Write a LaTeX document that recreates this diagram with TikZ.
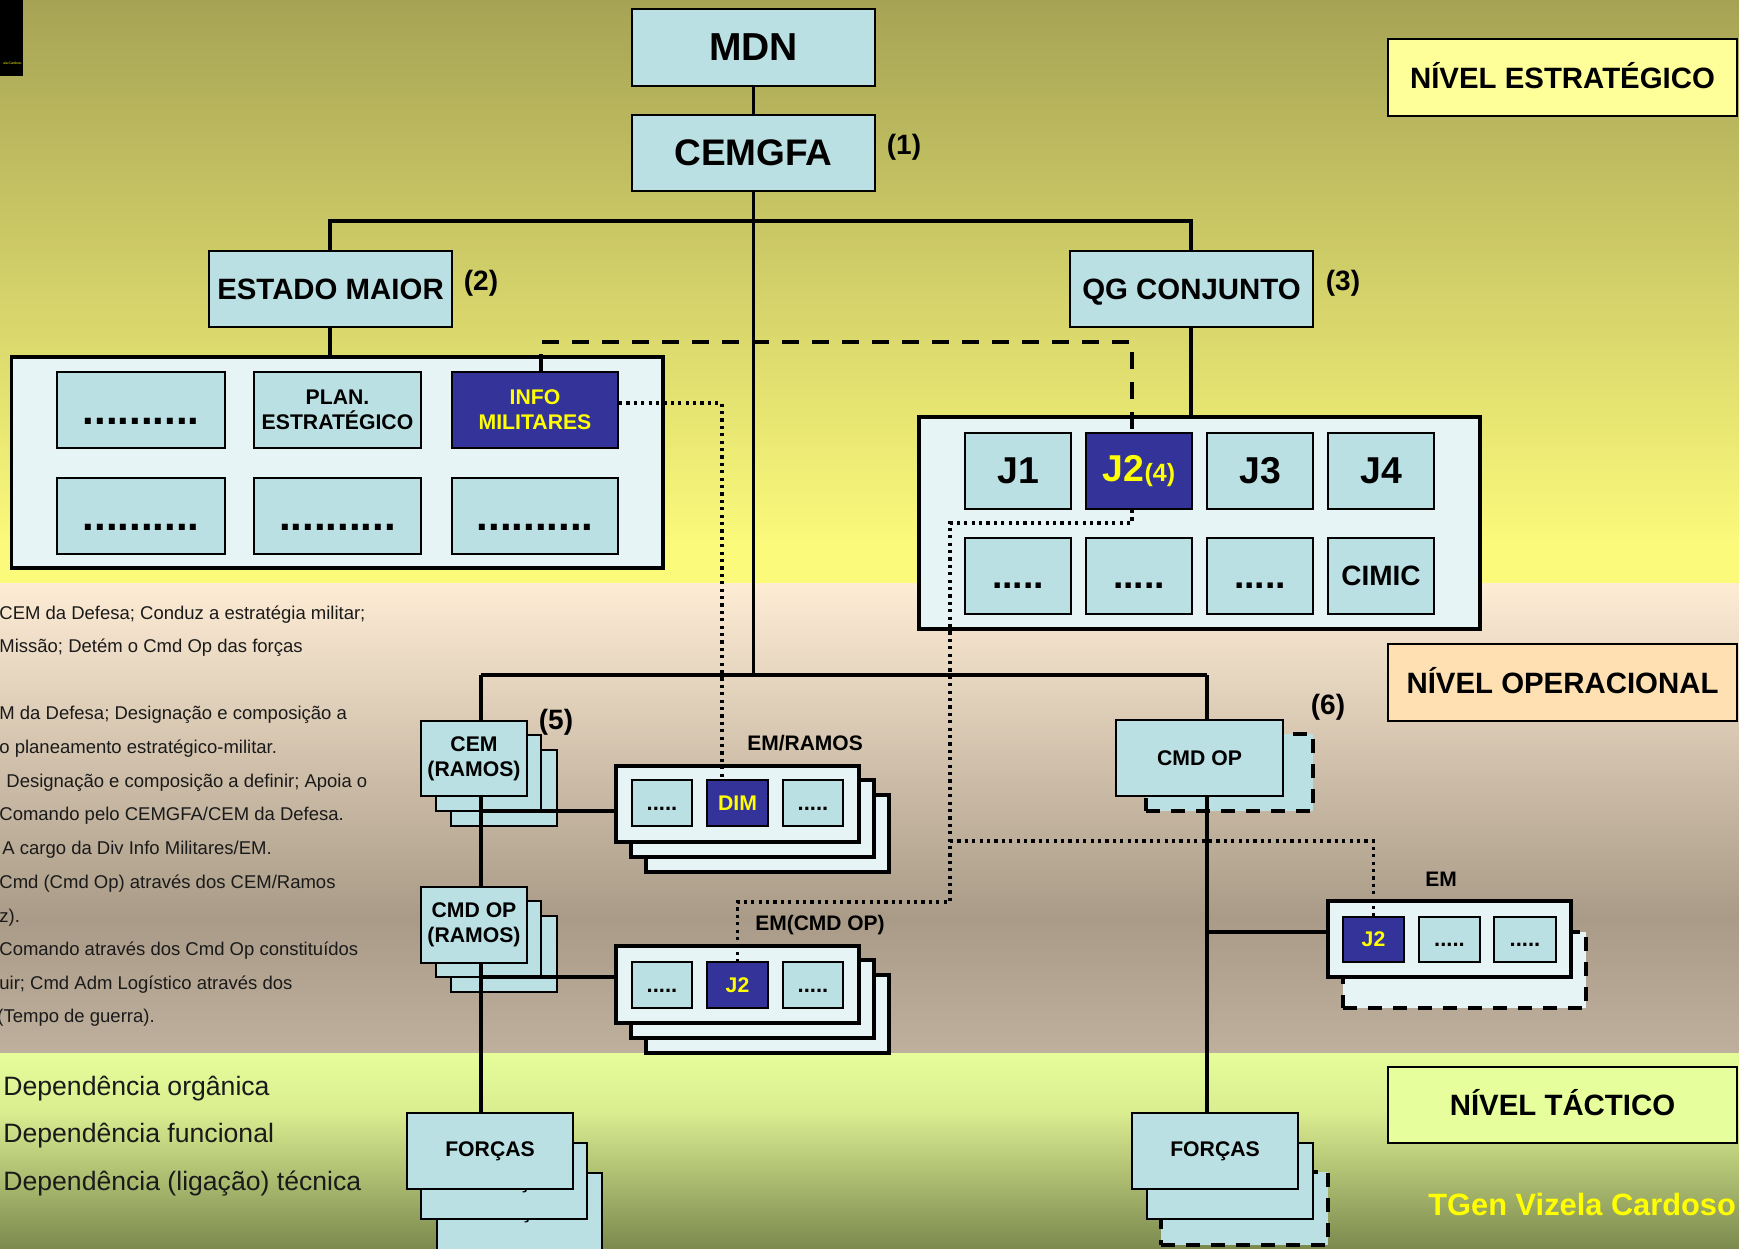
\documentclass[tikz,border=0pt]{standalone}
\usepackage{fontspec}
\setmainfont{Liberation Sans}
\usetikzlibrary{calc}
\definecolor{boxc}{HTML}{BBE0E3}
\definecolor{contc}{HTML}{E6F4F5}
\definecolor{navy}{HTML}{333399}
\definecolor{yel}{HTML}{FFFF00}
\definecolor{lv1}{HTML}{FFFF99}
\definecolor{lv2}{HTML}{FFE0B3}
\definecolor{lv3}{HTML}{E6FE9B}
\definecolor{bgA}{HTML}{A6A355}
\definecolor{bgB}{HTML}{FBFA7B}
\definecolor{bgC}{HTML}{FEECD5}
\definecolor{bgD}{HTML}{A99B87}
\definecolor{bgE}{HTML}{BFB09E}
\definecolor{bgF}{HTML}{E6FD9A}
\definecolor{bgG}{HTML}{DAED90}
\definecolor{bgH}{HTML}{7C8A4F}
\definecolor{txt}{HTML}{1A1A1A}
\newcommand\fs[2]{\fontsize{#1}{#2}\selectfont}
\newcommand\bx[7]{\node[#6, minimum width={(#4-#2)*0.5pt}, minimum height={(#5-#3)*0.5pt}] (#1) at ({(#2+#4)/2},{(#3+#5)/2}) {#7};}
\begin{document}
\begin{tikzpicture}[x=0.5pt,y=-0.5pt,
  box/.style={draw=black, line width=1pt, fill=boxc, inner sep=0pt, align=center, font=\bfseries},
  nbox/.style={box, fill=navy, text=yel},
  cont/.style={draw=black, line width=1.9pt, fill=contc, inner sep=0pt},
  lvl/.style={draw=black, line width=1pt, inner sep=0pt, text height=10.5pt, text depth=0pt, font={\bfseries\fs{14.7}{17}}},
  org/.style={line width=1.8pt},
  func/.style={line width=1.8pt, dash pattern=on 8.5pt off 6.5pt},
  tech/.style={line width=1.6pt, dash pattern=on 1.6pt off 2.1pt},
  dshadow/.style={draw=black, line width=1.8pt, dash pattern=on 7pt off 5.5pt, inner sep=0pt},
  side/.style={anchor=base west, inner sep=0pt, text=txt, font=\fs{9.25}{11}},
  leg/.style={anchor=base west, inner sep=0pt, text=txt, font=\fs{13.3}{16}},
  lab/.style={inner sep=0pt, font={\bfseries\fs{10.5}{12.5}}},
  num/.style={inner sep=0pt, font={\bfseries\fs{14}{16}}},
  big/.style={font={\bfseries\fs{14.7}{17}}},
  mid/.style={font={\bfseries\fs{10.6}{12.5}}},
  jf/.style={font={\bfseries\fs{18.7}{22}}},
  ldots/.style={font={\bfseries\fs{21}{25}}},
  sdots/.style={font={\bfseries\fs{11}{13}}},
]
\useasboundingbox (0,0) rectangle (1739,1248);
\clip (0,0) rectangle (1739,1248);
% background bands
\shade[top color=bgA, bottom color=bgB] (0,0) rectangle (1739,545);
\fill[bgB] (0,544) rectangle (1739,583);
\shade[top color=bgC, bottom color=bgD] (0,583) rectangle (1739,918);
\shade[top color=bgD, bottom color=bgE] (0,917) rectangle (1739,1053);
\shade[top color=bgF, bottom color=bgG] (0,1053) rectangle (1739,1112);
\shade[top color=bgG, bottom color=bgH] (0,1111) rectangle (1739,1248);
% corner mark
\fill[black] (0,0) rectangle (23,76);
\node[anchor=base east, inner sep=0pt, text=yel, font=\fs{1.7}{2}] (sig) at (22,64) {ela Cardoso};

% strategic level
\bx{mdn}{632}{9}{875}{86}{box, font={\bfseries\fs{19.5}{23}}}{MDN}
\bx{cemgfa}{632}{115}{875}{191}{box, font={\bfseries\fs{18.5}{22}}}{CEMGFA}
\bx{em}{209}{251}{452}{327}{box, big}{ESTADO MAIOR}
\bx{qg}{1070}{251}{1313}{327}{box, big, text depth=0pt}{QG CONJUNTO}
\node[num] (n1) at (904,147) {(1)};
\node[num] (n2) at (481,283) {(2)};
\node[num] (n3) at (1343,283) {(3)};

\bx{lcont}{11.5}{357}{663}{568}{cont}{}
\bx{l1}{57}{372}{225}{448}{box, ldots}{\vphantom{J}..........}
\bx{plan}{254}{372}{421}{448}{box, mid}{PLAN.\\ESTRATÉGICO}
\bx{info}{452}{372}{618}{448}{nbox, mid}{INFO\\MILITARES}
\bx{l4}{57}{478}{225}{554}{box, ldots}{\vphantom{J}..........}
\bx{l5}{254}{478}{421}{554}{box, ldots}{\vphantom{J}..........}
\bx{l6}{452}{478}{618}{554}{box, ldots}{\vphantom{J}..........}

\bx{rcont}{919}{417}{1480}{629}{cont}{}
\bx{j1}{965}{433}{1071}{509}{box, jf}{J1}
\bx{j2}{1086}{433}{1192}{509}{nbox, jf}{J2{\fs{12.5}{15}(4)}}
\bx{j3}{1207}{433}{1313}{509}{box, jf}{J3}
\bx{j4}{1328}{433}{1434}{509}{box, jf}{J4}
\bx{j5}{965}{538}{1071}{614}{box, jf}{\vphantom{J}.....}
\bx{j6}{1086}{538}{1192}{614}{box, jf}{\vphantom{J}.....}
\bx{j7}{1207}{538}{1313}{614}{box, jf}{\vphantom{J}.....}
\bx{cimic}{1328}{538}{1434}{614}{box, font={\bfseries\fs{14}{16}}}{CIMIC}

% level labels
\bx{lev1}{1388}{39}{1737}{116}{lvl, fill=lv1}{NÍVEL ESTRATÉGICO}
\bx{lev2}{1388}{644}{1737}{721}{lvl, fill=lv2}{NÍVEL OPERACIONAL}
\bx{lev3}{1388}{1067}{1737}{1143}{lvl, fill=lv3}{NÍVEL TÁCTICO}

% left column (ramos)
\bx{cems2}{451}{750}{557}{826}{box}{}
\bx{cems1}{436}{735}{541}{811}{box}{}
\bx{cemr}{421}{721}{527}{796}{box, mid}{CEM\\(RAMOS)}
\node[num] (n5) at (556,722) {(5)};
\bx{cmds2}{451}{916}{557}{992}{box}{}
\bx{cmds1}{436}{901}{541}{977}{box}{}
\bx{cmdr}{421}{887}{527}{963}{box, mid}{CMD OP\\(RAMOS)}
\bx{fls2}{437}{1173}{602}{1262}{box}{}
\node[mid, inner sep=0pt, anchor=base] (fls2t) at (518.5,1218) {FORÇAS};
\bx{fls1}{421}{1143}{587}{1219}{box}{}
\node[mid, inner sep=0pt, anchor=base] (fls1t) at (516.5,1188) {FORÇAS};
\bx{forl}{407}{1113}{573}{1189}{box, mid}{FORÇAS}

% EM/RAMOS
\bx{ers2}{646}{795}{889}{872}{cont}{}
\bx{ers1}{631}{780}{874}{857}{cont}{}
\bx{emram}{616}{766}{859}{842}{cont}{}
\bx{e1}{632}{780}{692}{826}{box, sdots}{\vphantom{J}.....}
\bx{dim}{707}{780}{768}{826}{nbox, mid}{DIM}
\bx{e3}{783}{780}{843}{826}{box, sdots}{\vphantom{J}.....}
\node[lab] (lemram) at (805,743) {EM/RAMOS};

% EM(CMD OP)
\bx{ecs2}{646}{975}{889}{1053}{cont}{}
\bx{ecs1}{631}{960}{874}{1038}{cont}{}
\bx{emcmd}{616}{946}{859}{1023}{cont}{}
\bx{c1}{632}{962}{692}{1008}{box, sdots}{\vphantom{J}.....}
\bx{j2b}{707}{962}{768}{1008}{nbox, mid}{J2}
\bx{c3}{783}{962}{843}{1008}{box, sdots}{\vphantom{J}.....}
\node[lab] (lemcmd) at (820,925) {EM(CMD OP)};

% right column
\bx{cmdsh}{1146}{734}{1313}{811}{dshadow, fill=boxc}{}
\bx{cmdop}{1116}{720}{1283}{796}{box, mid}{CMD OP}
\node[num] (n6) at (1328,707) {(6)};
\bx{emsh}{1343}{932}{1586}{1008}{dshadow, fill=contc}{}
\bx{emr}{1328}{901}{1571}{977}{cont}{}
\bx{j2c}{1343}{917}{1404}{962}{nbox, mid}{J2}
\bx{r2}{1419}{917}{1480}{962}{box, sdots}{\vphantom{J}.....}
\bx{r3}{1494}{917}{1556}{962}{box, sdots}{\vphantom{J}.....}
\node[lab] (lem) at (1441,879) {EM};
\bx{frs2}{1161}{1172}{1328}{1245}{dshadow, fill=boxc}{}
\bx{frs1}{1147}{1143}{1313}{1219}{box}{}
\bx{forr}{1132}{1113}{1298}{1189}{box, mid}{FORÇAS}

% organic dependence (solid)
\coordinate (tl) at (330,221);
\coordinate (tr) at (1191,221);
\coordinate (trunk) at (753.5,675);
\coordinate (midl) at (481,675);
\coordinate (midr) at (1207,675);
\coordinate (k1) at (481,811);
\coordinate (k2) at (481,977);
\coordinate (k3) at (1207,932);
\draw[org] (mdn.south) -- (cemgfa.north);
\draw[org] (cemgfa.south) -- (trunk);
\draw[org] (em.north -| tl) -- (tl) -- (tr) -- (qg.north -| tr);
\draw[org] (em.south -| tl) -- (lcont.north -| tl);
\draw[org] (qg.south -| tr) -- (rcont.north -| tr);
\draw[org] (midl) -- (midr);
\draw[org] (midl) -- (midl |- cemr.north);
\draw[org] (midl |- cemr.south) -- (midl |- cmdr.north);
\draw[org] (midl |- cmdr.south) -- (midl |- forl.north);
\draw[org] (k1) -- (k1 -| emram.west);
\draw[org] (k2) -- (k2 -| emcmd.west);
\draw[org] (midr) -- (midr |- cmdop.north);
\draw[org] (midr |- cmdop.south) -- (midr |- forr.north);
\draw[org] (k3) -- (k3 -| emr.west);

% functional dependence (dashed)
\coordinate (di) at (541,342);
\coordinate (dj) at (1132,342);
\draw[func] (di |- info.north) -- (di) -- (dj) -- (dj |- j2.north);

% technical dependence (dotted)
\coordinate (t1) at (722,403);
\draw[tech] (t1 -| info.east) -- (t1) -- (t1 |- dim.north);
\coordinate (t2) at (1132,523);
\coordinate (t3) at (950,523);
\coordinate (t4) at (950,902);
\coordinate (t5) at (737.5,902);
\draw[tech] (t2 |- j2.south) -- (t2) -- (t3) -- (t4) -- (t5) -- (t5 |- j2b.north);
\coordinate (t6) at (950,841);
\coordinate (t7) at (1373.5,841);
\draw[tech] (t6) -- (t7) -- (t7 |- j2c.north);

% side notes
\node[side] (s1) at (-1,619) {CEM da Defesa; Conduz a estratégia militar;};
\node[side] (s2) at (-1,652) {Missão; Detém o Cmd Op das forças};
\node[side] (s3) at (-1,719) {M da Defesa; Designação e composição a};
\node[side] (s4) at (-1,753) {o planeamento estratégico-militar.};
\node[side] (s5) at (6,787) {Designação e composição a definir; Apoia o};
\node[side] (s6) at (-1,820) {Comando pelo CEMGFA/CEM da Defesa.};
\node[side] (s7) at (2,854) {A cargo da Div Info Militares/EM.};
\node[side] (s8) at (-1,888) {Cmd (Cmd Op) através dos CEM/Ramos};
\node[side] (s9) at (-1,922) {z).};
\node[side] (s10) at (-1,955) {Comando através dos Cmd Op constituídos};
\node[side] (s11) at (-1,989) {uir; Cmd Adm Logístico através dos};
\node[side] (s12) at (-3,1022) {(Tempo de guerra).};

% legend
\node[leg] (g1) at (3,1095) {Dependência orgânica};
\node[leg] (g2) at (3,1142) {Dependência funcional};
\node[leg] (g3) at (3,1190) {Dependência (ligação) técnica};

\node[anchor=base west, inner sep=0pt, text=yel, font={\bfseries\fs{15.4}{18}}] (author) at (1428,1215) {TGen Vizela Cardoso};
\end{tikzpicture}
\end{document}
